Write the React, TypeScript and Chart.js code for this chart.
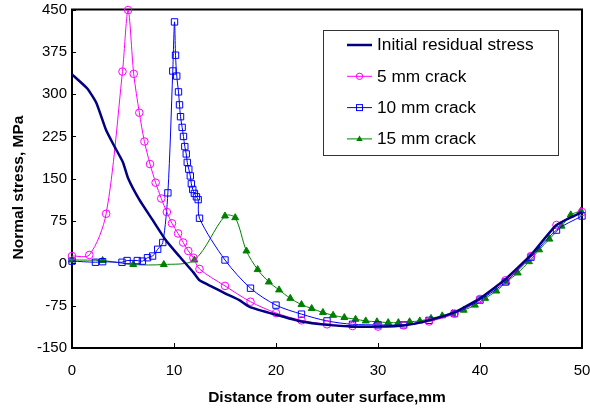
import React, { useEffect, useRef } from 'react';
import { Chart, registerables } from 'chart.js';

Chart.register(...registerables);

// ---- data ----
const xTickValues = [0, 10, 20, 30, 40, 50];
const yTickValues = [-150, -75, 0, 75, 150, 225, 300, 375, 450];

const initialX = [0, 1.5, 2.4, 3.35, 4.2, 5.0, 5.5, 6.6, 7.9, 9.2, 10.5, 11.9, 12.5, 13.8, 15, 16.4, 17.4, 20, 22.5, 25, 27.5, 30, 32.5, 35, 37.5, 40, 42.5, 45, 47.5, 50];
const initialY = [335, 310, 284, 236, 206, 179, 151, 113, 77, 41, 13, -16, -30, -42, -53, -65, -77, -91, -103, -109, -112, -112, -110, -101, -87, -62, -28, 15, 68, 91];

const crack5X = [0, 1.7, 3.35, 4.95, 5.5, 6.05, 6.6, 7.1, 7.65, 8.2, 8.75, 9.3, 9.8, 10.4, 10.9, 11.4, 11.9, 12.5, 15, 17.5, 20, 22.5, 25, 27.5, 30, 32.5, 35, 37.5, 40, 42.5, 45, 47.5, 50];
const crack5Y = [13, 15, 88, 340, 449, 336, 267, 216, 176, 143, 115, 91, 71, 53, 37, 22, 10, -10, -40, -68, -88, -101, -108, -111, -112, -110, -103, -89, -63, -30, 13, 68, 91];

const crack10X = [0, 2.3, 3.0, 4.9, 5.4, 6.4, 6.9, 7.4, 7.9, 8.4, 8.9, 9.4, 9.88, 10.05, 10.15, 10.27, 10.44, 10.54, 10.64, 10.8, 10.93, 11.06, 11.2, 11.3, 11.45, 11.6, 11.7, 11.84, 12.0, 12.2, 12.37, 12.5, 15, 17.5, 20, 22.5, 25, 27.5, 30, 32.5, 35, 37.5, 40, 42.5, 45, 47.5, 50];
const crack10Y = [4, 2, 3, 2, 5, 5, 4, 10, 13, 25, 37, 125, 341, 428, 369, 332, 304, 281, 260, 241, 225, 207, 194, 179, 167, 155, 141, 131, 124, 118, 113, 80, 6, -44, -74, -90, -102, -108, -109, -109, -101, -89, -65, -33, 11, 59, 84];

const crack15X = [0, 3, 6, 9, 12, 15, 16, 17.1, 18.2, 19.3, 20.3, 21.4, 22.5, 23.5, 24.6, 25.6, 26.7, 27.8, 28.8, 29.9, 31, 32, 33.1, 34.1, 35.2, 36.3, 37.3, 38.4, 39.5, 40.5, 41.6, 42.6, 43.7, 44.8, 45.8, 46.8, 48, 48.9, 49.9];
const crack15Y = [6, 5, -2, -2, 6, 84, 81, 22, -11, -33, -47, -62, -73, -80, -87, -92, -96, -99, -102, -103.5, -105, -105, -103.5, -102, -97.5, -93, -89, -83, -74, -62, -49, -33, -17, 3, 24, 43, 66, 86, 93];

const seriesLabels = ['Initial residual stress', '5 mm crack', '10 mm crack', '15 mm crack'];
const xTitle = 'Distance from outer surface,mm';
const yTitle = 'Normal stress, MPa';

const toPoints = (xs: number[], ys: number[]) => xs.map((x, i) => ({ x, y: ys[i] }));

const FONT = '"Liberation Sans", Arial, sans-serif';

const framePlugin = {
  id: 'frame',
  beforeDatasetsDraw(chart: any) {
    const { ctx, chartArea: a, scales } = chart;
    ctx.save();
    ctx.strokeStyle = '#000';
    ctx.lineWidth = 1;
    for (const v of xTickValues) {
      const px = Math.round(scales.x.getPixelForValue(v)) + 0.5;
      ctx.beginPath();
      ctx.moveTo(px, a.bottom);
      ctx.lineTo(px, a.bottom - 5);
      ctx.stroke();
    }
    for (const v of yTickValues) {
      const py = Math.round(scales.y.getPixelForValue(v)) + 0.5;
      ctx.beginPath();
      ctx.moveTo(a.left, py);
      ctx.lineTo(a.left + 4, py);
      ctx.stroke();
    }
    ctx.lineWidth = 2;
    ctx.strokeRect(a.left, a.top, a.right - a.left, a.bottom - a.top);
    // y axis title
    ctx.translate(18.5, 187.5);
    ctx.rotate(-Math.PI / 2);
    ctx.fillStyle = '#000';
    ctx.font = `bold 15.5px ${FONT}`;
    ctx.textAlign = 'center';
    ctx.textBaseline = 'middle';
    ctx.fillText(yTitle, 0, 0);
    ctx.restore();
  },
};

const legendPlugin = {
  id: 'boxLegend',
  afterDatasetsDraw(chart: any) {
    const { ctx } = chart;
    const left = 323;
    const top = 30;
    const w = 235;
    const h = 125;
    ctx.save();
    ctx.fillStyle = '#fff';
    ctx.fillRect(left, top, w, h);
    ctx.strokeStyle = '#333';
    ctx.lineWidth = 1;
    ctx.strokeRect(left + 0.5, top + 0.5, w, h);
    chart.data.datasets.forEach((ds: any, i: number) => {
      const cy = top + 15 + i * 31.3;
      const x0 = left + 24;
      const x1 = left + 49;
      const cx = (x0 + x1) / 2;
      ctx.strokeStyle = ds.borderColor;
      ctx.lineWidth = ds.borderWidth;
      ctx.beginPath();
      ctx.moveTo(x0, cy);
      ctx.lineTo(x1, cy);
      ctx.stroke();
      ctx.lineWidth = 1;
      if (ds.pointStyle === 'circle' && ds.pointRadius > 0) {
        ctx.beginPath();
        ctx.arc(cx, cy, 3.2, 0, Math.PI * 2);
        ctx.stroke();
      } else if (ds.pointStyle === 'rect') {
        ctx.strokeRect(cx - 3, cy - 3, 6, 6);
      } else if (ds.pointStyle === 'triangle') {
        ctx.fillStyle = ds.pointBackgroundColor;
        ctx.beginPath();
        ctx.moveTo(cx, cy - 3.5);
        ctx.lineTo(cx + 3.2, cy + 2);
        ctx.lineTo(cx - 3.2, cy + 2);
        ctx.closePath();
        ctx.fill();
      }
      ctx.fillStyle = '#000';
      ctx.font = `17.3px ${FONT}`;
      ctx.textBaseline = 'middle';
      ctx.textAlign = 'left';
      ctx.fillText(ds.label, left + 54, cy + 0.5);
    });
    ctx.restore();
  },
};

export default function App() {
  const ref = useRef<HTMLCanvasElement | null>(null);

  useEffect(() => {
    if (!ref.current) return;
    const chart = new Chart(ref.current, {
      type: 'line',
      data: {
        datasets: [
          {
            label: seriesLabels[0],
            data: toPoints(initialX, initialY),
            borderColor: '#000080',
            backgroundColor: '#000080',
            borderWidth: 2.5,
            pointRadius: 0,
            pointStyle: 'circle',
            tension: 0.15,
          },
          {
            label: seriesLabels[1],
            data: toPoints(crack5X, crack5Y),
            borderColor: '#FF00FF',
            backgroundColor: '#FF00FF',
            borderWidth: 1,
            pointStyle: 'circle',
            pointRadius: 3.8,
            pointBorderColor: '#FF00FF',
            pointBackgroundColor: 'rgba(0,0,0,0)',
            pointBorderWidth: 1,
            tension: 0.3,
          },
          {
            label: seriesLabels[2],
            data: toPoints(crack10X, crack10Y),
            borderColor: '#0000FF',
            backgroundColor: '#0000FF',
            borderWidth: 1,
            pointStyle: 'rect',
            pointRadius: 4.5,
            pointBorderColor: '#0000FF',
            pointBackgroundColor: 'rgba(0,0,0,0)',
            pointBorderWidth: 1,
            tension: 0.3,
          },
          {
            label: seriesLabels[3],
            data: toPoints(crack15X, crack15Y),
            borderColor: '#008000',
            backgroundColor: '#008000',
            borderWidth: 1,
            pointStyle: 'triangle',
            pointRadius: 4,
            pointBorderColor: '#008000',
            pointBackgroundColor: '#008000',
            pointBorderWidth: 1,
            tension: 0.3,
          },
        ] as any,
      },
      options: {
        animation: false,
        responsive: false,
        maintainAspectRatio: false,
        clip: false as any,
        layout: { padding: { top: 9.5, right: 8, left: 0, bottom: 0 } },
        plugins: { legend: { display: false }, tooltip: { enabled: false } },
        scales: {
          x: {
            type: 'linear',
            min: 0,
            max: 50,
            afterFit: (s: any) => { s.height = 63; s.paddingLeft = 0; s.paddingRight = 0; },
            afterBuildTicks: (s: any) => { s.ticks = xTickValues.map((v) => ({ value: v })); },
            grid: { display: false, drawTicks: false },
            border: { display: false },
            ticks: { color: '#000', font: { family: FONT, size: 15 }, padding: 14, maxRotation: 0 },
            title: {
              display: true,
              text: xTitle,
              color: '#000',
              font: { family: FONT, size: 15.5, weight: 'bold' },
              padding: { top: 0, bottom: 4 },
            },
          },
          y: {
            type: 'linear',
            min: -150,
            max: 450,
            afterFit: (s: any) => { s.width = 72; s.paddingTop = 0; s.paddingBottom = 0; },
            afterBuildTicks: (s: any) => { s.ticks = yTickValues.map((v) => ({ value: v })); },
            grid: { display: false, drawTicks: false },
            border: { display: false },
            ticks: { color: '#000', font: { family: FONT, size: 15 }, padding: 5 },
            title: { display: false },
          },
        },
      } as any,
      plugins: [framePlugin, legendPlugin],
    });
    return () => chart.destroy();
  }, []);

  return (
    <div style={{ position: 'fixed', left: 0, top: 0, width: 590, height: 411, background: '#fff' }}>
      <canvas ref={ref} width={590} height={411} style={{ width: 590, height: 411 }} />
    </div>
  );
}
